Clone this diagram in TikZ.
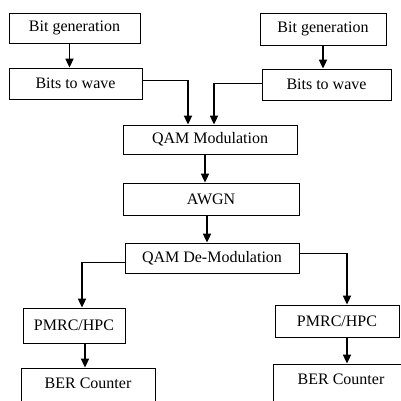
\documentclass[tikz,border=0pt]{standalone}
\usepackage{fontspec}
\setmainfont{Liberation Serif}
\usepackage{tikz}
\usetikzlibrary{arrows.meta}

\begin{document}
\begin{tikzpicture}[x=1pt, y=-1pt, font=\fontsize{16}{19}\selectfont]
    % Define styles
    \tikzstyle{block} = [rectangle, draw=black, line width=0.8pt, fill=white, inner sep=0pt, text centered]
    \tikzstyle{flow} = [line width=1.7pt, -{Triangle[length=9pt, width=8pt]}]
    \tikzstyle{wire} = [line width=0.8pt]

    \fill [white] (0,0) rectangle (401,400);
    \useasboundingbox (0,0) rectangle (401,400);
    \clip (0,0) rectangle (401,400);

    % Transmitter side
    \node [block, minimum width=131pt, minimum height=30pt] (bitgen_l) at (74.5,28) {Bit generation};
    \node [block, minimum width=133pt, minimum height=31pt] (bitwave_l) at (75.5,83.5) {Bits to wave};
    \node [block, minimum width=126pt, minimum height=32pt] (bitgen_r) at (323,29) {Bit generation};
    \node [block, minimum width=129pt, minimum height=31pt] (bitwave_r) at (326.5,84.5) {Bits to wave};

    % Channel
    \node [block, minimum width=174pt, minimum height=29pt] (qam_mod) at (210,139.5) {QAM Modulation};
    \node [block, minimum width=176pt, minimum height=32pt] (awgn) at (211,199) {AWGN};
    \node [block, minimum width=174pt, minimum height=30pt] (qam_demod) at (212,258) {QAM De-Modulation};

    % Receiver side
    \node [block, minimum width=102pt, minimum height=35pt] (pmrc_l) at (74,325.5) {PMRC/HPC};
    \node [block, minimum width=124pt, minimum height=32pt] (pmrc_r) at (337,321) {PMRC/HPC};
    \node [block, minimum width=134pt, minimum height=40pt, text depth=10pt] (ber_l) at (88,388) {BER Counter};
    \node [block, minimum width=136pt, minimum height=40pt, text depth=10pt] (ber_r) at (341,384) {BER Counter};

    % Entry points
    \coordinate (mod_in_l) at ([xshift=-22pt]qam_mod.north);
    \coordinate (mod_in_r) at ([xshift=4pt]qam_mod.north);
    \coordinate (pmrc_in_l) at ([xshift=8pt]pmrc_l.north);
    \coordinate (pmrc_in_r) at ([xshift=10pt]pmrc_r.north);

    % Arrows showing signal flow
    \draw [flow] ([xshift=-5pt]bitgen_l.south) -- ([xshift=-5pt]bitgen_l.south |- bitwave_l.north);
    \draw [flow] (bitgen_r.south) -- (bitgen_r.south |- bitwave_r.north);

    \draw [wire] ([yshift=3.5pt]bitwave_l.east) -- ([yshift=3.5pt]bitwave_l.east -| mod_in_l);
    \draw [flow] ([yshift=3.5pt]bitwave_l.east -| mod_in_l) -- (mod_in_l);
    \draw [wire] ([yshift=1.5pt]bitwave_r.west) -- ([yshift=1.5pt]bitwave_r.west -| mod_in_r);
    \draw [flow] ([yshift=1.5pt]bitwave_r.west -| mod_in_r) -- (mod_in_r);

    \draw [flow] ([xshift=-5pt]qam_mod.south) -- ([xshift=-5pt]qam_mod.south |- awgn.north);
    \draw [flow] ([xshift=-4pt]awgn.south) -- ([xshift=-4pt]awgn.south |- qam_demod.north);

    \draw [wire] ([yshift=-4pt]qam_demod.west) -- ([yshift=-4pt]qam_demod.west -| pmrc_in_l);
    \draw [flow] ([yshift=-4pt]qam_demod.west -| pmrc_in_l) -- (pmrc_in_l);
    \draw [wire] ([yshift=5pt]qam_demod.east) -- ([yshift=5pt]qam_demod.east -| pmrc_in_r);
    \draw [flow] ([yshift=5pt]qam_demod.east -| pmrc_in_r) -- (pmrc_in_r);

    \draw [flow] ([xshift=11pt]pmrc_l.south) -- ([xshift=11pt]pmrc_l.south |- ber_l.north);
    \draw [flow] ([xshift=10pt]pmrc_r.south) -- ([xshift=10pt]pmrc_r.south |- ber_r.north);
\end{tikzpicture}
\end{document}
